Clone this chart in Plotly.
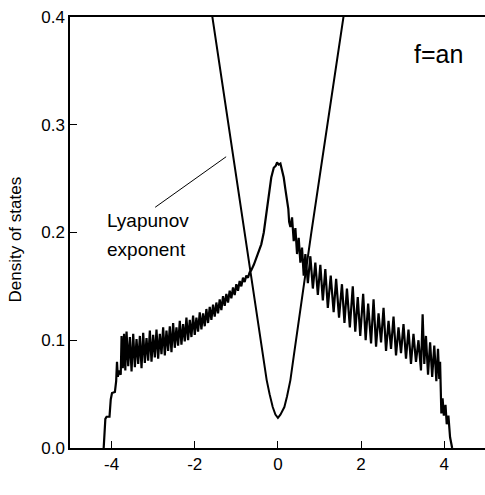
import plotly.graph_objects as go

# Density of states vs energy E
dos_E = [-4.19, -4.15, -4.12, -4.05, -4.02, -3.99, -3.92, -3.89, -3.87, -3.85, -3.82, -3.78,
         -3.76, -3.73, -3.70, -3.67, -3.64, -3.60, -3.56, -3.52, -3.48, -3.44, -3.40, -3.36,
         -3.32, -3.28, -3.24, -3.20, -3.16, -3.12, -3.08, -3.04, -3.00, -2.96, -2.92, -2.88,
         -2.84, -2.80, -2.76, -2.72, -2.68, -2.64, -2.60, -2.56, -2.52, -2.48, -2.44, -2.40,
         -2.36, -2.32, -2.28, -2.24, -2.20, -2.16, -2.12, -2.08, -2.04, -2.00, -1.96, -1.92,
         -1.88, -1.84, -1.80, -1.76, -1.72, -1.68, -1.64, -1.60, -1.56, -1.52, -1.48, -1.44,
         -1.40, -1.36, -1.32, -1.28, -1.24, -1.20, -1.16, -1.12, -1.08, -1.04, -1.00, -0.96,
         -0.92, -0.88, -0.84, -0.80, -0.76, -0.72, -0.68, -0.64, -0.58, -0.52, -0.46, -0.40,
         -0.34, -0.28, -0.22, -0.16, -0.10, -0.05, -0.02, 0.02, 0.06, 0.10, 0.14, 0.18,
         0.22, 0.25, 0.27, 0.30, 0.34, 0.38, 0.42, 0.46, 0.50, 0.54, 0.58, 0.62,
         0.66, 0.72, 0.78, 0.84, 0.90, 0.96, 1.02, 1.08, 1.14, 1.20, 1.27, 1.34,
         1.40, 1.47, 1.54, 1.60, 1.66, 1.73, 1.80, 1.86, 1.92, 1.98, 2.05, 2.11,
         2.17, 2.24, 2.30, 2.36, 2.42, 2.48, 2.54, 2.60, 2.66, 2.72, 2.78, 2.84,
         2.90, 2.96, 3.02, 3.08, 3.14, 3.20, 3.26, 3.32, 3.38, 3.44, 3.48, 3.52,
         3.56, 3.61, 3.66, 3.71, 3.76, 3.81, 3.85, 3.88, 3.90, 3.93, 3.96, 3.99,
         4.03, 4.06, 4.10, 4.14, 4.19]
dos_val = [0.000, 0.027, 0.029, 0.029, 0.045, 0.051, 0.052, 0.062, 0.080, 0.066, 0.072, 0.068,
           0.104, 0.074, 0.106, 0.072, 0.108, 0.076, 0.103, 0.071, 0.106, 0.075, 0.101, 0.078,
           0.104, 0.074, 0.107, 0.079, 0.102, 0.081, 0.109, 0.080, 0.105, 0.084, 0.110, 0.083,
           0.106, 0.087, 0.112, 0.086, 0.109, 0.090, 0.113, 0.089, 0.116, 0.093, 0.112, 0.095,
           0.118, 0.096, 0.115, 0.099, 0.121, 0.100, 0.119, 0.103, 0.123, 0.105, 0.121, 0.108,
           0.126, 0.110, 0.125, 0.113, 0.129, 0.116, 0.131, 0.119, 0.133, 0.122, 0.135, 0.125,
           0.138, 0.128, 0.141, 0.132, 0.143, 0.135, 0.146, 0.139, 0.149, 0.142, 0.152, 0.146,
           0.155, 0.150, 0.158, 0.154, 0.160, 0.158, 0.163, 0.165, 0.170, 0.176, 0.182, 0.189,
           0.200, 0.218, 0.236, 0.251, 0.260, 0.262, 0.265, 0.263, 0.264, 0.258, 0.251, 0.240,
           0.228, 0.222, 0.210, 0.205, 0.214, 0.192, 0.204, 0.180, 0.195, 0.172, 0.186, 0.160,
           0.180, 0.153, 0.178, 0.148, 0.172, 0.142, 0.170, 0.137, 0.166, 0.130, 0.160, 0.126,
           0.157, 0.121, 0.152, 0.116, 0.148, 0.112, 0.150, 0.108, 0.140, 0.104, 0.143, 0.100,
           0.134, 0.097, 0.138, 0.094, 0.125, 0.098, 0.130, 0.090, 0.118, 0.092, 0.122, 0.086,
           0.112, 0.088, 0.115, 0.083, 0.110, 0.078, 0.106, 0.080, 0.100, 0.072, 0.124, 0.078,
           0.104, 0.068, 0.098, 0.066, 0.095, 0.062, 0.092, 0.064, 0.080, 0.032, 0.046, 0.030,
           0.040, 0.022, 0.030, 0.010, 0.000]

# Lyapunov exponent vs energy E
lyap_E = [-1.70, -1.575, -1.40, -1.21, -1.00, -0.80, -0.66, -0.55, -0.445, -0.35, -0.27, -0.20,
          -0.125, -0.06, 0.00, 0.06, 0.155, 0.22, 0.30, 0.38, 0.47, 0.56, 0.66, 0.80,
          1.00, 1.21, 1.40, 1.575, 1.70]
lyap_val = [0.432, 0.400, 0.355, 0.304, 0.251, 0.199, 0.163, 0.137, 0.110, 0.085, 0.063, 0.050,
            0.038, 0.031, 0.028, 0.031, 0.038, 0.048, 0.063, 0.085, 0.110, 0.137, 0.163, 0.199,
            0.251, 0.304, 0.355, 0.400, 0.432]

x_tick_vals = [-4, -2, 0, 2, 4]
x_tick_text = ["-4", "-2", "0", "2", "4"]
y_tick_vals = [0.0, 0.1, 0.2, 0.3, 0.4]
y_tick_text = ["0.0", "0.1", "0.2", "0.3", "0.4"]

FONT = "Liberation Sans, Arial, sans-serif"

fig = go.Figure()
fig.add_trace(go.Scatter(x=dos_E, y=dos_val, mode="lines",
                         line=dict(color="black", width=2.2), showlegend=False))
fig.add_trace(go.Scatter(x=lyap_E, y=lyap_val, mode="lines",
                         line=dict(color="black", width=2), showlegend=False))
# leader line for label
fig.add_trace(go.Scatter(x=[-1.245, -2.952], y=[0.2703, 0.2234], mode="lines",
                         line=dict(color="black", width=1), showlegend=False))

fig.update_layout(
    width=485, height=495,
    margin=dict(l=70, r=0, t=17, b=47),
    paper_bgcolor="white", plot_bgcolor="white",
    font=dict(family=FONT, color="black", size=17),
    xaxis=dict(range=[-5, 4.98], showgrid=False, zeroline=False,
               showline=True, linecolor="black", linewidth=1.5, mirror=True,
               ticks="inside", ticklen=7, tickwidth=1.2, tickcolor="black",
               tickvals=x_tick_vals, ticktext=x_tick_text,
               tickfont=dict(size=17, family=FONT)),
    yaxis=dict(range=[0, 0.4], showgrid=False, zeroline=False,
               showline=True, linecolor="black", linewidth=1.5, mirror=False,
               ticks="inside", ticklen=7, tickwidth=1.2, tickcolor="black",
               tickvals=y_tick_vals, ticktext=y_tick_text,
               tickfont=dict(size=17, family=FONT), ticklabeloverflow="allow"),
)

fig.add_annotation(text="f=an", x=3.233, y=0.3657, xref="x", yref="y",
                   xanchor="left", yanchor="middle", showarrow=False,
                   font=dict(size=25, family=FONT))
fig.add_annotation(text="Lyapunov", x=-4.17, y=0.2107, xref="x", yref="y",
                   xanchor="left", yanchor="middle", showarrow=False,
                   font=dict(size=19, family=FONT))
fig.add_annotation(text="exponent", x=-4.17, y=0.1838, xref="x", yref="y",
                   xanchor="left", yanchor="middle", showarrow=False,
                   font=dict(size=19, family=FONT))
fig.add_annotation(text="E", x=0.0, y=-0.037, xref="x", yref="y",
                   xanchor="center", yanchor="middle", showarrow=False,
                   font=dict(size=17, family=FONT))
fig.add_annotation(text="Density of states", x=0, y=0.1935, xref="paper", yref="y",
                   xshift=-55, textangle=-90, xanchor="center", yanchor="middle",
                   showarrow=False, font=dict(size=17, family=FONT))

fig.write_html("out.html", config={"displayModeBar": False},
               post_script="document.body.style.margin='0';document.body.style.overflow='hidden';")
